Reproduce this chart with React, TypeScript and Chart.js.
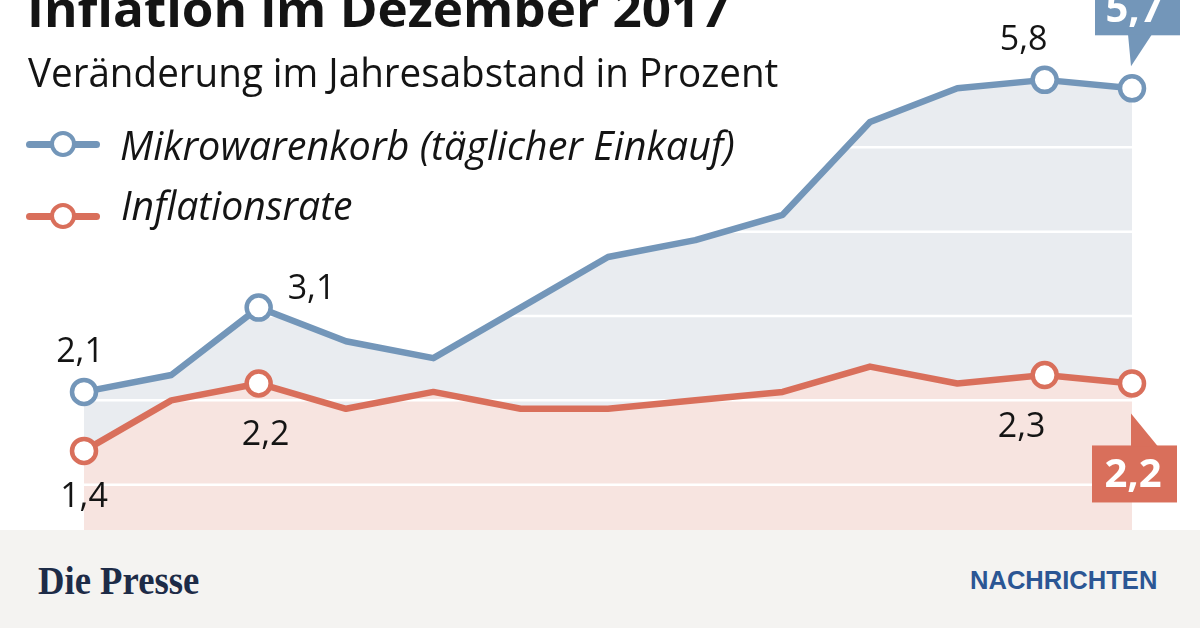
import React, { useEffect, useLayoutEffect, useRef } from "react";
import { Chart, registerables } from "chart.js";

Chart.register(...registerables);

// ---------- data ----------
const months = ["Dez 16", "Jän", "Feb", "Mär", "Apr", "Mai", "Jun", "Jul", "Aug", "Sep", "Okt", "Nov", "Dez 17"];
const mikrowarenkorb = [2.1, 2.3, 3.1, 2.7, 2.5, 3.1, 3.7, 3.9, 4.2, 5.3, 5.7, 5.8, 5.7];
const inflationsrate = [1.4, 2.0, 2.2, 1.9, 2.1, 1.9, 1.9, 2.0, 2.1, 2.4, 2.2, 2.3, 2.2];
const markedPoints = [0, 2, 11, 12];
const yGridValues = [1, 2, 3, 4, 5];
const yMin = 0;
const yMax = 6;

const seriesNames = ["Mikrowarenkorb (täglicher Einkauf)", "Inflationsrate"];

// ---------- style ----------
const BLUE = "#7396B9";
const RED = "#D96F5B";
const BLUE_FILL = "#E9ECF0";
const RED_FILL = "#F7E4E0";
const TEXT = "#141414";
const SANS = '"Open Sans", "Noto Sans", sans-serif';

const fmt = (v: number) => v.toFixed(1).replace(".", ",");

// label placement relative to each marked point (style only)
type LabelPos = { ds: number; idx: number; dx: number; dy: number; align: CanvasTextAlign };
const labelPositions: LabelPos[] = [
  { ds: 0, idx: 0, dx: -4, dy: -30, align: "center" },
  { ds: 0, idx: 2, dx: 29, dy: -9, align: "left" },
  { ds: 0, idx: 11, dx: -21, dy: -30, align: "center" },
  { ds: 1, idx: 0, dx: 0, dy: 56, align: "center" },
  { ds: 1, idx: 2, dx: 7, dy: 62, align: "center" },
  { ds: 1, idx: 11, dx: -23, dy: 62, align: "center" },
];

const overlayPlugin = {
  id: "overlayPlugin",
  beforeDatasetsDraw(chart: any) {
    const { ctx, chartArea, scales } = chart;
    ctx.save();
    ctx.strokeStyle = "#ffffff";
    ctx.lineWidth = 2.5;
    for (const v of yGridValues) {
      const py = scales.y.getPixelForValue(v);
      ctx.beginPath();
      ctx.moveTo(chartArea.left, py);
      ctx.lineTo(chartArea.right, py);
      ctx.stroke();
    }
    ctx.restore();
  },
  afterDatasetsDraw(chart: any) {
    const { ctx } = chart;
    const values = [mikrowarenkorb, inflationsrate];
    ctx.save();
    ctx.fillStyle = TEXT;
    ctx.textBaseline = "alphabetic";
    ctx.font = `34px ${SANS}`;
    for (const lp of labelPositions) {
      const pt = chart.getDatasetMeta(lp.ds).data[lp.idx];
      ctx.textAlign = lp.align;
      ctx.fillText(fmt(values[lp.ds][lp.idx]), pt.x + lp.dx, pt.y + lp.dy);
    }

    // callout for the last blue value (above)
    const last = months.length - 1;
    const pb = chart.getDatasetMeta(0).data[last];
    ctx.fillStyle = BLUE;
    ctx.fillRect(pb.x - 37, pb.y - 112, 85, 59);
    ctx.beginPath();
    ctx.moveTo(pb.x - 4, pb.y - 54);
    ctx.lineTo(pb.x + 20, pb.y - 54);
    ctx.lineTo(pb.x - 1, pb.y - 22);
    ctx.closePath();
    ctx.fill();
    ctx.fillStyle = "#ffffff";
    ctx.font = `bold 40px ${SANS}`;
    ctx.textAlign = "center";
    ctx.fillText(fmt(mikrowarenkorb[last]), pb.x + 2, pb.y - 66);

    // callout for the last red value (below)
    const pr = chart.getDatasetMeta(1).data[last];
    ctx.fillStyle = RED;
    ctx.fillRect(pr.x - 40, pr.y + 62, 85, 57);
    ctx.beginPath();
    ctx.moveTo(pr.x - 1, pr.y + 30);
    ctx.lineTo(pr.x - 1, pr.y + 63);
    ctx.lineTo(pr.x + 26, pr.y + 63);
    ctx.closePath();
    ctx.fill();
    ctx.fillStyle = "#ffffff";
    ctx.fillText(fmt(inflationsrate[last]), pr.x + 1, pr.y + 104);
    ctx.restore();
  },
};

// ---------- text helper: places baseline exactly and fits width ----------
function FitText(props: {
  text: string;
  x: number;
  baseline: number;
  width?: number;
  size: number;
  weight?: number;
  italic?: boolean;
  family?: string;
  color?: string;
  spacing?: number;
}) {
  const ref = useRef<HTMLDivElement>(null);
  const mark = useRef<HTMLSpanElement>(null);
  useLayoutEffect(() => {
    const el = ref.current;
    const m = mark.current;
    if (!el || !m) return;
    const base = m.offsetTop;
    el.style.top = `${props.baseline - base}px`;
    if (props.width) {
      const w = el.offsetWidth;
      el.style.transform = `scaleX(${props.width / w})`;
    }
  }, []);
  return (
    <div
      ref={ref}
      style={{
        position: "absolute",
        left: props.x,
        top: 0,
        whiteSpace: "nowrap",
        transformOrigin: "left top",
        fontFamily: props.family || SANS,
        fontSize: props.size,
        fontWeight: props.weight || 400,
        fontStyle: props.italic ? "italic" : "normal",
        color: props.color || TEXT,
        letterSpacing: props.spacing || 0,
        lineHeight: 1.2,
        zIndex: 3,
      }}
    >
      {props.text}
      <span ref={mark} style={{ display: "inline-block", width: 0, height: 0, verticalAlign: "baseline" }} />
    </div>
  );
}

function LegendMarker(props: { y: number; color: string }) {
  return (
    <>
      <div
        style={{
          position: "absolute",
          left: 26,
          top: props.y - 3.5,
          width: 74,
          height: 7,
          borderRadius: 4,
          background: props.color,
          zIndex: 3,
        }}
      />
      <div
        style={{
          position: "absolute",
          left: 63 - 13,
          top: props.y - 13,
          width: 26,
          height: 26,
          boxSizing: "border-box",
          borderRadius: "50%",
          border: `4px solid ${props.color}`,
          background: "#fff",
          zIndex: 4,
        }}
      />
    </>
  );
}

export default function App() {
  const canvasRef = useRef<HTMLCanvasElement>(null);

  useEffect(() => {
    const canvas = canvasRef.current;
    if (!canvas) return;
    const pr = (ctx: any) => (markedPoints.includes(ctx.dataIndex) ? 12 : 0);
    const chart = new Chart(canvas, {
      type: "line",
      data: {
        labels: months,
        datasets: [
          {
            label: seriesNames[0],
            data: mikrowarenkorb,
            borderColor: BLUE,
            backgroundColor: BLUE_FILL,
            fill: 1,
            borderWidth: 6.5,
            tension: 0,
            borderJoinStyle: "round",
            pointRadius: pr,
            pointHoverRadius: pr,
            pointBackgroundColor: "#ffffff",
            pointBorderColor: BLUE,
            pointBorderWidth: 4.5,
            clip: false,
          } as any,
          {
            label: seriesNames[1],
            data: inflationsrate,
            borderColor: RED,
            backgroundColor: RED_FILL,
            fill: "origin",
            borderWidth: 6.5,
            tension: 0,
            borderJoinStyle: "round",
            pointRadius: pr,
            pointHoverRadius: pr,
            pointBackgroundColor: "#ffffff",
            pointBorderColor: RED,
            pointBorderWidth: 4.5,
            clip: false,
          } as any,
        ],
      },
      options: {
        animation: false,
        responsive: false,
        events: [],
        layout: { padding: { left: 84, right: 68, top: 63, bottom: 59 } },
        scales: {
          x: { display: false },
          y: { display: false, min: yMin, max: yMax },
        },
        plugins: {
          legend: { display: false },
          tooltip: { enabled: false },
          filler: { drawTime: "beforeDatasetsDraw" },
        } as any,
      },
      plugins: [overlayPlugin],
    });
    return () => chart.destroy();
  }, []);

  return (
    <div
      style={{
        position: "fixed",
        left: 0,
        top: 0,
        width: 1200,
        height: 628,
        overflow: "hidden",
        background: "#ffffff",
      }}
    >
      <canvas
        ref={canvasRef}
        width={1200}
        height={628}
        style={{ position: "absolute", left: 0, top: 0, width: 1200, height: 628, display: "block" }}
      />
      <FitText text="Inflation im Dezember 2017" x={27} baseline={27} width={703} size={48} weight={700} />
      <FitText text="Veränderung im Jahresabstand in Prozent" x={28} baseline={87} width={750} size={41} />
      <LegendMarker y={144} color={BLUE} />
      <FitText text={seriesNames[0]} x={120} baseline={160} width={615} size={41} italic />
      <LegendMarker y={216} color={RED} />
      <FitText text={seriesNames[1]} x={121} baseline={220} width={232} size={41} italic />

      <div
        style={{
          position: "absolute",
          left: 0,
          top: 530,
          width: 1200,
          height: 98,
          background: "#F4F3F1",
          zIndex: 2,
        }}
      />
      <FitText
        text="Die Presse"
        x={38}
        baseline={594}
        width={161}
        size={41}
        weight={700}
        family='"Liberation Serif", "DejaVu Serif", serif'
        color="#1D2B47"
      />
      <FitText
        text="NACHRICHTEN"
        x={970}
        baseline={589}
        width={187}
        size={25}
        weight={700}
        family='"Liberation Sans", Arial, sans-serif'
        color="#2B5694"
      />
    </div>
  );
}
